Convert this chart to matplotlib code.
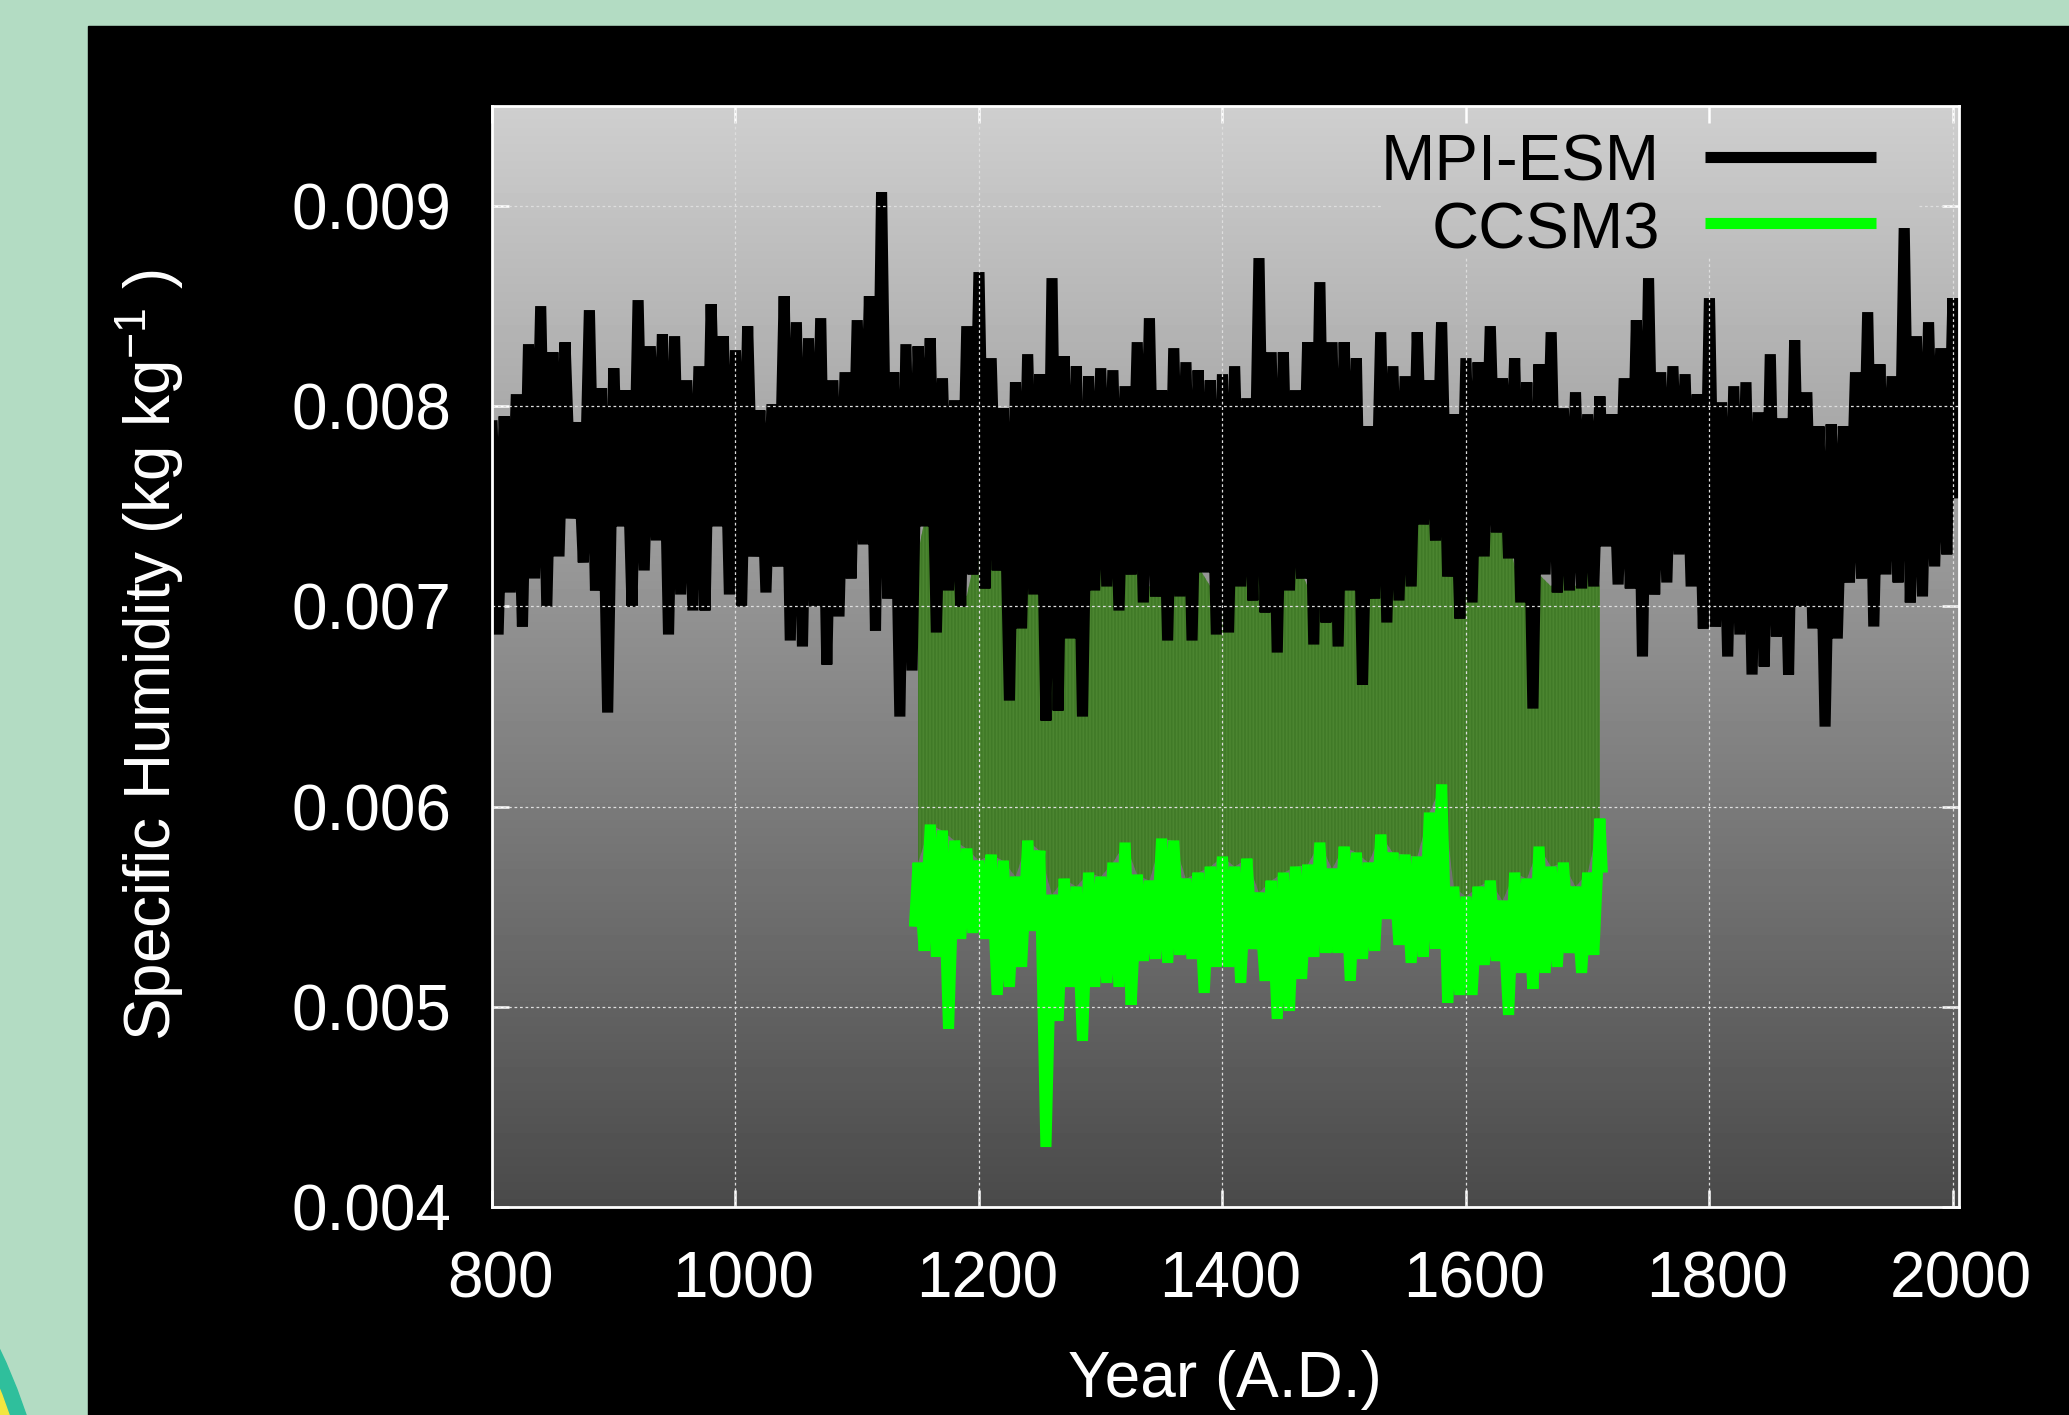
import numpy as np
import matplotlib
matplotlib.use('Agg')
import matplotlib.pyplot as plt
from matplotlib.patches import Rectangle, Ellipse
from matplotlib.transforms import ScaledTranslation

plt.rcParams['font.family'] = ['Liberation Sans', 'DejaVu Sans']
plt.rcParams['mathtext.fontset'] = 'custom'
plt.rcParams['mathtext.rm'] = 'Liberation Sans'
plt.rcParams['mathtext.default'] = 'regular'
plt.rcParams['hatch.linewidth'] = 1.2

# ----------------
# DATA
# ----------------

# MPI-ESM: upper swings every 10 yrs from 800, lower swings every 10 yrs from 805
mpi_peak = [
    0.00793, 0.00795, 0.00806, 0.00831, 0.0085, 0.00827, 0.00832, 0.00792, 0.00848, 0.00809, 0.00819,
    0.00808, 0.00853, 0.0083, 0.00836, 0.00835, 0.00813, 0.0082, 0.00851, 0.00835, 0.00828,
    0.0084, 0.00798, 0.00801, 0.00855, 0.00842, 0.00834, 0.00844, 0.00813, 0.00817, 0.00843,
    0.00855, 0.00907, 0.00817, 0.00831, 0.0083, 0.00834, 0.00814, 0.00803, 0.0084, 0.00867,
    0.00824, 0.00799, 0.00812, 0.00826, 0.00816, 0.00864, 0.00825, 0.0082, 0.00815, 0.00819,
    0.00818, 0.0081, 0.00832, 0.00844, 0.00808, 0.00829, 0.00822, 0.00818, 0.00813, 0.00816,
    0.0082, 0.00804, 0.00874, 0.00827, 0.00827, 0.00808, 0.00832, 0.00862, 0.00832, 0.00832,
    0.00824, 0.0079, 0.00837, 0.0082, 0.00815, 0.00837, 0.00813, 0.00842, 0.00796, 0.00824,
    0.00822, 0.0084, 0.00814, 0.00824, 0.00812, 0.00821, 0.00837, 0.00799, 0.00807, 0.00796,
    0.00805, 0.00796, 0.00814, 0.00843, 0.00864, 0.00817, 0.0082, 0.00816, 0.00806, 0.00854,
    0.00802, 0.0081, 0.00812, 0.00797, 0.00826, 0.00794, 0.00833, 0.00807, 0.0079, 0.00791,
    0.0079, 0.00817, 0.00847, 0.00821, 0.00815, 0.00889, 0.00835, 0.00842, 0.00829, 0.00854,
]
mpi_trough = [
    0.00686, 0.00707, 0.0069, 0.00714, 0.007, 0.00725, 0.00744, 0.00722, 0.00708, 0.00647,
    0.0074, 0.007, 0.00718, 0.00733, 0.00686, 0.00706, 0.00698, 0.00698, 0.0074, 0.00706,
    0.007, 0.00725, 0.00707, 0.0072, 0.00683, 0.0068, 0.007, 0.00671, 0.00695, 0.00714,
    0.00731, 0.00688, 0.00704, 0.00645, 0.00668, 0.0074, 0.00687, 0.00708, 0.007, 0.00716,
    0.00709, 0.00718, 0.00653, 0.00689, 0.00706, 0.00643, 0.00648, 0.00684, 0.00645, 0.00708,
    0.0071, 0.00698, 0.00716, 0.00702, 0.00705, 0.00683, 0.00705, 0.00683, 0.00717, 0.00686,
    0.00687, 0.0071, 0.00703, 0.00697, 0.00677, 0.00708, 0.00714, 0.00681, 0.00692, 0.0068,
    0.00708, 0.00661, 0.00704, 0.00692, 0.00703, 0.0071, 0.00741, 0.00733, 0.00715, 0.00694,
    0.00702, 0.00725, 0.00737, 0.00724, 0.00702, 0.00649, 0.00716, 0.00707, 0.00708, 0.00709,
    0.0071, 0.0073, 0.00711, 0.00709, 0.00675, 0.00706, 0.00712, 0.00726, 0.0071, 0.00689,
    0.0069, 0.00675, 0.00686, 0.00666, 0.0067, 0.00685, 0.00666, 0.007, 0.00689, 0.0064,
    0.00684, 0.00712, 0.00714, 0.0069, 0.00716, 0.00712, 0.00702, 0.00705, 0.0072, 0.00726,
]
mpi_last = (2004, 0.00754)

# CCSM3: upper swings every 10 yrs from 1150, lower swings every 10 yrs from 1155
ccsm_peak = [
    0.00572, 0.00591, 0.00588, 0.00583, 0.00579,
    0.00573, 0.00576, 0.00573, 0.00565, 0.00583, 0.00578, 0.00556, 0.00564, 0.0056, 0.00567,
    0.00565, 0.00572, 0.00582, 0.00566, 0.00563, 0.00584, 0.00583, 0.00564, 0.00567, 0.0057,
    0.00575, 0.0057, 0.00574, 0.00557, 0.00563, 0.00567, 0.0057, 0.00571, 0.00582, 0.00569,
    0.0058, 0.00577, 0.00572, 0.00586, 0.00577, 0.00576, 0.00575, 0.00597, 0.00611, 0.0056,
    0.00555, 0.0056, 0.00563, 0.00553, 0.00567, 0.00564, 0.0058, 0.0057, 0.00572, 0.0056, 0.00567, 0.00594,
]
ccsm_trough = [
    0.00528, 0.00525, 0.00489, 0.00534, 0.00537,
    0.00534, 0.00506, 0.0051, 0.0052, 0.00538, 0.0043, 0.00493, 0.0051, 0.00483, 0.0051,
    0.00512, 0.0051, 0.00501, 0.00523, 0.00524, 0.00522, 0.00526, 0.00524, 0.00507, 0.0052,
    0.0052, 0.00512, 0.00529, 0.00513, 0.00494, 0.00498, 0.00514, 0.00525, 0.00527, 0.00527,
    0.00513, 0.00524, 0.00528, 0.00544, 0.00531, 0.00522, 0.00525, 0.00529, 0.00502, 0.00506,
    0.00506, 0.00521, 0.00523, 0.00496, 0.00517, 0.00509, 0.00517, 0.0052, 0.00527, 0.00517, 0.00526,
]
ccsm_first = (1147, 0.0054)
ccsm_last = (1712, 0.00567)

# upper edge of the shaded CCSM3 band (years 1150..1710, step 10)
band_top = [
    0.00727, 0.00757, 0.0071, 0.00717, 0.00705,
    0.00734, 0.0073, 0.0072, 0.0071, 0.0072, 0.00712, 0.0073, 0.0072, 0.00715, 0.0071,
    0.0072, 0.0072, 0.00728, 0.0072, 0.0071, 0.0071, 0.0072, 0.00718, 0.0072, 0.0071,
    0.0071, 0.0073, 0.00749, 0.0074, 0.00737, 0.0072, 0.00723, 0.0071, 0.0071, 0.00725,
    0.0072, 0.0071, 0.0071, 0.0072, 0.00745, 0.0073, 0.0074, 0.00757, 0.00742, 0.00733,
    0.00715, 0.00725, 0.00737, 0.0075, 0.0072, 0.0072, 0.00716, 0.0071, 0.0072, 0.0071, 0.00727, 0.0071,
]

x_ticks = [800, 1000, 1200, 1400, 1600, 1800, 2000]
y_ticks = [0.004, 0.005, 0.006, 0.007, 0.008, 0.009]

# ----------------
# BUILD SERIES
# ----------------

mpi_years = np.arange(800, 2001, 5)
mpi = np.empty(mpi_years.size)
mpi[0::2] = mpi_peak
mpi[1::2] = mpi_trough
mpi_years = np.append(mpi_years, mpi_last[0])
mpi = np.append(mpi, mpi_last[1])

ccsm_years = np.arange(1150, 1711, 5)
ccsm = np.empty(ccsm_years.size)
ccsm[0::2] = ccsm_peak
ccsm[1::2] = ccsm_trough
ccsm_years = np.concatenate([[ccsm_first[0]], ccsm_years, [ccsm_last[0]]])
ccsm = np.concatenate([[ccsm_first[1]], ccsm, [ccsm_last[1]]])

band_years = np.arange(1150, 1711, 10)

# ----------------
# FIGURE
# ----------------

W, H = 2069, 1415
fig = plt.figure(figsize=(W / 100, H / 100), dpi=100, facecolor='#b3dcc3')

# slide decoration in the lower-left corner + black panel
fig.patches.append(Ellipse((-530 / W, -185 / H), 1172 / W, 1172 / H,
                           transform=fig.transFigure, color='#2fbf9c', zorder=-3))
fig.patches.append(Ellipse((-530 / W, -185 / H), 1140 / W, 1140 / H,
                           transform=fig.transFigure, color='#f2e640', zorder=-2))
fig.patches.append(Rectangle((88 / W, 0), 1 - 88 / W, 1 - 26 / H,
                             transform=fig.transFigure, color='black', zorder=-1))

ax = fig.add_axes([492 / W, 1 - 1207 / H, 1467 / W, 1101 / H])
ax.set_zorder(1)
ax.set_facecolor('none')

grad = np.linspace(0.81, 0.29, 256)[:, None] * np.ones((1, 2))
ax.imshow(grad, cmap='gray', vmin=0, vmax=1, aspect='auto',
          extent=(0, 1, 0, 1), transform=ax.transAxes, zorder=0,
          interpolation='bilinear')

ax.fill_between(band_years, ccsm_peak, band_top, facecolor='#4b8530',
                edgecolor='#407a27', hatch='|||||', linewidth=0, zorder=1)

ax.plot(mpi_years, mpi, color='black', lw=8, solid_joinstyle='bevel',
        solid_capstyle='butt', zorder=2)
ax.plot(ccsm_years, ccsm, color='#00ff00', lw=8, solid_joinstyle='bevel',
        solid_capstyle='butt', zorder=2.1)

ax.set_xlim(800, 2005)
ax.set_ylim(0.004, 0.0095)
ax.set_xticks(x_ticks)
ax.set_yticks(y_ticks)
ax.set_yticklabels([f'{v:.3f}' for v in y_ticks])

# grid (drawn over the data, kept clear of the key area)
key_x0, key_x1, key_y0 = 0.607, 0.973, 0.863
gkw = dict(color='#dedede', lw=0.9, ls=(0, (2.2, 2.2)), zorder=2.5)
ytr = ax.get_yaxis_transform()
xtr = ax.get_xaxis_transform()
for v in y_ticks[1:]:
    ya = (v - 0.004) / 0.0055
    if ya > key_y0:
        ax.plot([0, key_x0], [v, v], transform=ytr, **gkw)
        ax.plot([key_x1, 1], [v, v], transform=ytr, **gkw)
    else:
        ax.plot([0, 1], [v, v], transform=ytr, **gkw)
for v in x_ticks[1:]:
    xa = (v - 800) / 1205
    top = key_y0 if key_x0 < xa < key_x1 else 1
    ax.plot([v, v], [0, top], transform=xtr, **gkw)

for s in ax.spines.values():
    s.set_color('white')
    s.set_linewidth(2)
    s.set_zorder(3)

ax.tick_params(axis='both', which='both', direction='in', colors='white',
               length=12, width=1.8, labelsize=46, top=True, right=True)
ax.tick_params(axis='x', pad=31)
ax.tick_params(axis='y', pad=29)
for lbl in ax.get_xticklabels():
    lbl.set_transform(lbl.get_transform() + ScaledTranslation(0.08, 0, fig.dpi_scale_trans))

# key
ax.plot([0.8269, 0.9434], [0.9537, 0.9537], transform=ax.transAxes,
        color='black', lw=8, solid_capstyle='butt', zorder=4)
ax.plot([0.8269, 0.9434], [0.8937, 0.8937], transform=ax.transAxes,
        color='#00ff00', lw=8, solid_capstyle='butt', zorder=4)
ax.text(0.7962, 0.9319, 'MPI-ESM', transform=ax.transAxes, ha='right',
        va='baseline', fontsize=47, color='black', zorder=4)
ax.text(0.7962, 0.871, 'CCSM3', transform=ax.transAxes, ha='right',
        va='baseline', fontsize=47, color='black', zorder=4)

fig.text(1225 / W, 1 - 1397 / H, 'Year (A.D.)', ha='center', va='baseline',
         fontsize=46, color='white')
fig.text(171 / W, 1 - 655 / H, r'Specific Humidity (kg kg$^{-1}$ )', ha='center',
         va='baseline', rotation=90, rotation_mode='anchor', fontsize=46, color='white')

fig.savefig('out.png', dpi=100, facecolor=fig.get_facecolor())
